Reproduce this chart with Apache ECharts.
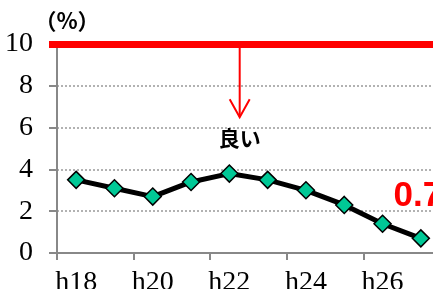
<!DOCTYPE html>
<html>
<head>
<meta charset="utf-8">
<script src="https://cdn.jsdelivr.net/npm/echarts@6/dist/echarts.min.js"></script>
<style>
  html, body { margin: 0; padding: 0; background: #fff; }
  #main { width: 433px; height: 289px; }
</style>
</head>
<body>
<div id="main"></div>
<script>
// データ
var years = ['h18', 'h19', 'h20', 'h21', 'h22', 'h23', 'h24', 'h25', 'h26', 'h27'];
var rates = [3.5, 3.1, 2.7, 3.4, 3.8, 3.5, 3.0, 2.3, 1.4, 0.7];
var yTicks = [0, 2, 4, 6, 8, 10];
var unitText = '（%）';
var target = 10;          // 目標ライン
var arrowFrom = 10;       // 矢印の始点(値)
var arrowTo = 6.5;        // 矢印の先端(値)
var arrowPos = 4.27;      // 矢印の横位置(カテゴリ番号)
var noteText = '良い';
var noteValue = 5.5;

var serif = '"Liberation Serif", "Times New Roman", serif';
var cjk = '"Noto Sans CJK JP", sans-serif';

var dom = document.getElementById('main');
var myChart = echarts.init(dom);

var lastIdx = rates.length - 1;
var seriesData = rates.map(function (v, i) {
  if (i !== lastIdx) return v;
  return {
    value: v,
    label: {
      show: true,
      position: 'top',
      distance: 15,
      offset: [-3, 0],
      formatter: String(v),
      color: '#ff0000',
      fontSize: 35,
      fontWeight: 'bold',
      fontFamily: '"Liberation Sans", Arial, sans-serif'
    }
  };
});

var option = {
  animation: false,
  backgroundColor: '#fff',
  grid: {
    left: 57,
    top: 44,
    width: 383,
    height: 209,
    containLabel: false,
    outerBoundsMode: 'none'
  },
  xAxis: {
    type: 'category',
    data: years,
    boundaryGap: true,
    axisLine: { lineStyle: { color: '#888', width: 2 } },
    axisTick: { show: true, length: 7, lineStyle: { color: '#888', width: 2 } },
    axisLabel: {
      interval: 1,
      margin: 16,
      color: '#000',
      fontSize: 28,
      fontFamily: serif
    },
    splitLine: { show: false }
  },
  yAxis: {
    type: 'value',
    min: yTicks[0],
    max: yTicks[yTicks.length - 1],
    interval: 2,
    axisLine: { show: true, lineStyle: { color: '#888', width: 2 } },
    axisTick: { show: true, length: 8, lineStyle: { color: '#888', width: 2 } },
    axisLabel: {
      margin: 24,
      color: '#000',
      fontSize: 28,
      fontFamily: serif
    },
    splitLine: { show: true, lineStyle: { color: '#999', type: [2, 2], width: 1.5 } }
  },
  series: [{
    name: '割合',
    type: 'line',
    data: seriesData,
    symbol: 'diamond',
    symbolSize: 17,
    lineStyle: { color: '#000', width: 5 },
    itemStyle: { color: '#00c896', borderColor: '#000', borderWidth: 1.5 },
    z: 3,
    markLine: {
      silent: true,
      symbol: ['none', 'none'],
      label: { show: false },
      lineStyle: { color: '#ff0000', width: 7, type: 'solid' },
      data: [[{ x: 49, yAxis: target }, { x: 433, yAxis: target }]]
    }
  }]
};
myChart.setOption(option, true);

// 矢印と「良い」、単位
var p0 = myChart.convertToPixel({ gridIndex: 0 }, [Math.floor(arrowPos), arrowFrom]);
var p1 = myChart.convertToPixel({ gridIndex: 0 }, [Math.floor(arrowPos) + 1, arrowTo]);
var ax = p0[0] + (p1[0] - p0[0]) * (arrowPos - Math.floor(arrowPos));
var yTop = p0[1];
var yTip = p1[1];
var yNote = myChart.convertToPixel({ yAxisIndex: 0 }, noteValue);
var yAxisX = myChart.convertToPixel({ xAxisIndex: 0 }, 0) - (p1[0] - p0[0]) / 2;

myChart.setOption({
  graphic: [
    {
      type: 'line',
      shape: { x1: ax, y1: yTop, x2: ax, y2: yTip },
      style: { stroke: '#ff0000', lineWidth: 2 },
      z: 10
    },
    {
      type: 'polyline',
      shape: { points: [[ax - 10, yTip - 18], [ax, yTip], [ax + 10, yTip - 18]] },
      style: { stroke: '#ff0000', lineWidth: 2, fill: null },
      z: 10
    },
    {
      type: 'text',
      x: ax,
      y: yNote,
      style: {
        text: noteText,
        fill: '#000',
        font: 'bold 21px ' + cjk,
        textAlign: 'center',
        textVerticalAlign: 'middle'
      },
      z: 10
    },
    {
      type: 'text',
      x: yAxisX + 10,
      y: yTop - 23,
      style: {
        text: unitText,
        fill: '#000',
        font: 'bold 22px ' + cjk,
        textAlign: 'center',
        textVerticalAlign: 'middle'
      },
      z: 10
    }
  ]
});
</script>
</body>
</html>
